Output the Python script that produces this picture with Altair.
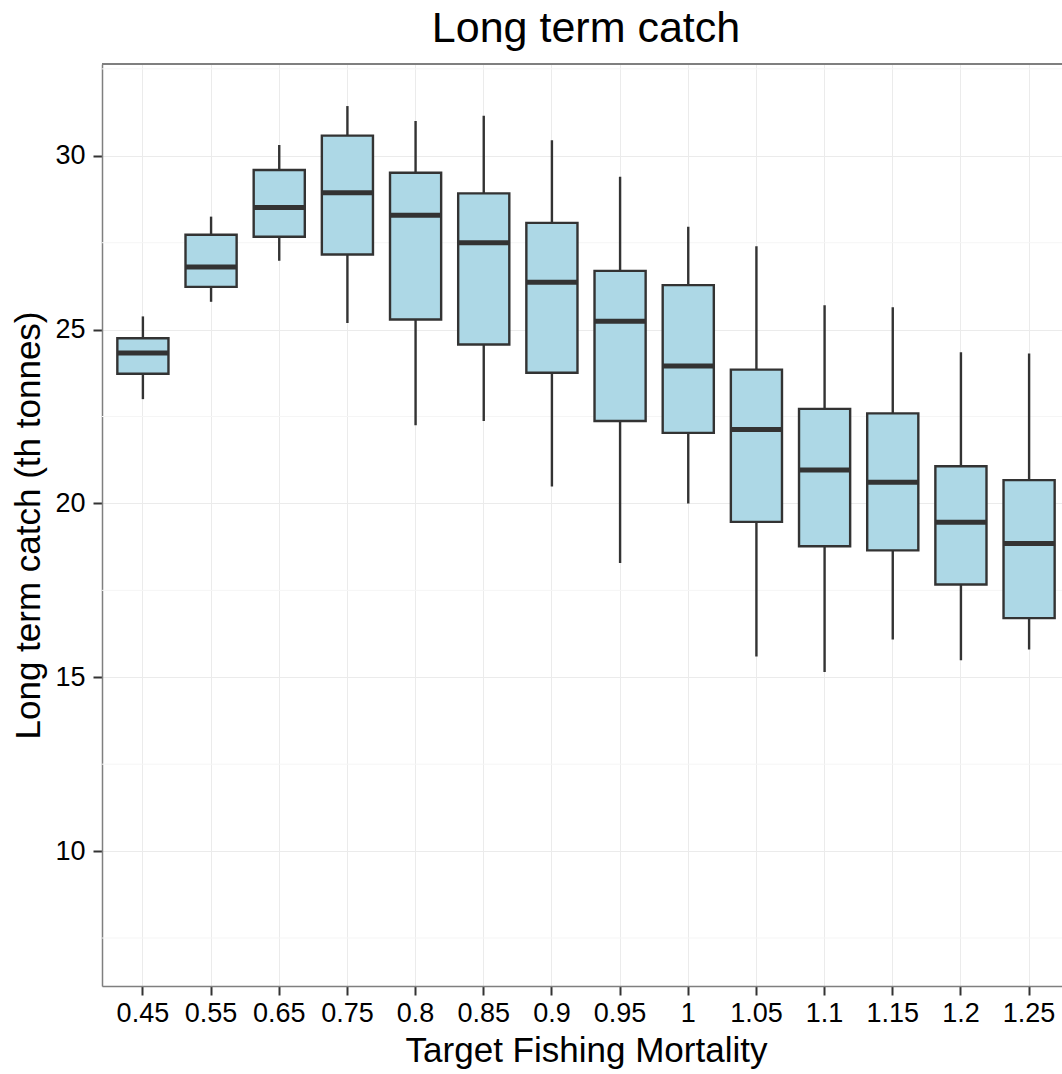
import altair as alt
import pandas as pd

# Box-plot summary of long term catch by target fishing mortality
f_target = ["0.45", "0.55", "0.65", "0.75", "0.8", "0.85", "0.9",
            "0.95", "1", "1.05", "1.1", "1.15", "1.2", "1.25"]
whisker_low = [23.00, 25.80, 26.98, 25.19, 22.25, 22.37, 20.49,
               18.29, 20.00, 15.60, 15.15, 16.09, 15.49, 15.80]
q1 = [23.73, 26.23, 27.67, 27.16, 25.29, 24.57, 23.76,
      22.37, 22.03, 19.47, 18.77, 18.65, 17.67, 16.70]
median = [24.33, 26.80, 28.51, 28.94, 28.29, 27.50, 26.36,
          25.24, 23.95, 22.13, 20.96, 20.61, 19.46, 18.85]
q3 = [24.75, 27.73, 29.59, 30.58, 29.51, 28.92, 28.07,
      26.69, 26.28, 23.85, 22.72, 22.59, 21.07, 20.67]
whisker_high = [25.38, 28.25, 30.31, 31.43, 31.00, 31.15, 30.45,
                29.40, 27.96, 27.40, 25.70, 25.64, 24.35, 24.31]

y_ticks = [10, 15, 20, 25, 30]
y_minor = [7.5, 12.5, 17.5, 22.5, 27.5, 32.5]
Y_MIN, Y_MAX = 6.12, 32.64

df = pd.DataFrame({
    "F": f_target,
    "lo": whisker_low,
    "q1": q1,
    "med": median,
    "q3": q3,
    "hi": whisker_high,
})
minor_df = pd.DataFrame({"v": y_minor})

FONT = "Liberation Sans"
INK = "#333333"
FRAME = "#7F7F7F"

x_enc = alt.X(
    "F:N",
    sort=f_target,
    title="Target Fishing Mortality",
    scale=alt.Scale(range=[0, 968], paddingInner=0, paddingOuter=0.1),
    axis=alt.Axis(
        labelAngle=0, labelFontSize=27, labelColor="black", labelFont=FONT,
        labelPadding=5, tickSize=9, tickWidth=2, tickColor=INK,
        titleFontSize=35, titleFont=FONT, titleFontWeight="normal",
        titleColor="black", titlePadding=7, titleX=484,
        grid=True, gridColor="#EBEBEB", gridWidth=1,
        domain=True, domainColor=FRAME, domainWidth=1.5,
        bandPosition=0.5,
    ),
)
y_scale = alt.Scale(domain=[Y_MIN, Y_MAX], nice=False, zero=False)

base = alt.Chart(df)

minor = alt.Chart(minor_df).mark_rule(color="#F5F5F5", strokeWidth=1).encode(
    y=alt.Y("v:Q", scale=y_scale)
)

# top edge of the panel frame
frame_top = alt.Chart(minor_df).mark_rule(color=FRAME, strokeWidth=1.5).encode(
    y=alt.datum(Y_MAX, type="quantitative", scale=y_scale)
)

whiskers = base.mark_rule(color=INK, strokeWidth=2.4, opacity=1).encode(
    x=x_enc,
    y=alt.Y(
        "lo:Q",
        scale=y_scale,
        title="Long term catch (th tonnes)",
        axis=alt.Axis(
            values=y_ticks, labelFontSize=27, labelColor="black", labelFont=FONT,
            labelPadding=8, tickSize=9, tickWidth=2, tickColor=INK,
            titleFontSize=35, titleFont=FONT, titleFontWeight="normal",
            titleColor="black", titlePadding=8,
            grid=True, gridColor="#EBEBEB", gridWidth=1,
            domain=True, domainColor=FRAME, domainWidth=1.5,
        ),
    ),
    y2="hi:Q",
)

boxes = base.mark_bar(
    width=alt.RelativeBandSize(0.75), fill="#ADD8E6", stroke=INK,
    strokeWidth=2.4, opacity=1,
).encode(
    x=alt.X("F:N", sort=f_target),
    y=alt.Y("q1:Q", scale=y_scale),
    y2="q3:Q",
)

medians = base.mark_tick(color=INK, size=51, thickness=5, opacity=1).encode(
    x=alt.X("F:N", sort=f_target),
    y=alt.Y("med:Q", scale=y_scale),
)

chart = (
    alt.layer(minor, frame_top, whiskers, boxes, medians)
    .properties(
        width=960,
        height=922,
        title=alt.TitleParams(
            "Long term catch", fontSize=43, font=FONT, fontWeight="normal",
            color="black", anchor="middle", offset=12, dx=4,
        ),
        autosize=alt.AutoSizeParams(type="none"),
        padding={"left": 102, "top": 64, "right": 0, "bottom": 88},
    )
    .configure_view(stroke=FRAME, strokeWidth=1.5, strokeOpacity=1)
    .configure(background="white")
)

chart.save("out.html", embed_options={"renderer": "svg", "actions": False})
